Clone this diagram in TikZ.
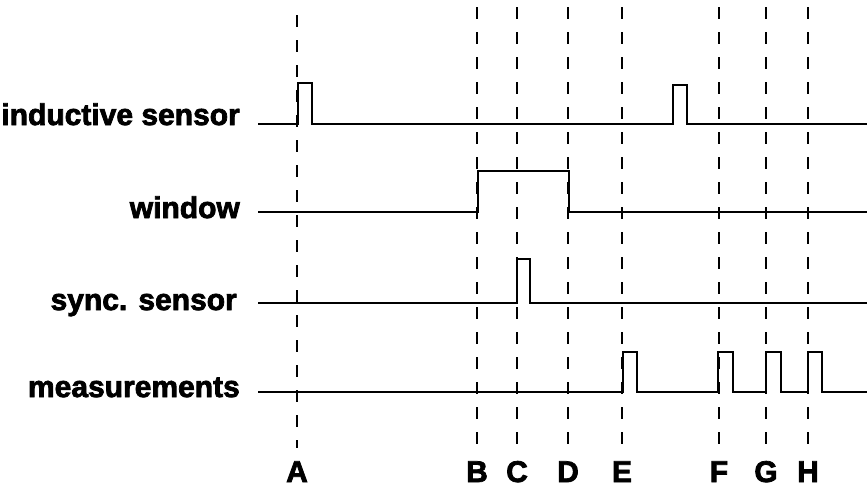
\documentclass[tikz,border=0pt]{standalone}
\usepackage{fontspec}
\setmainfont{Liberation Sans}[BoldFeatures={FakeBold=2.5}]
\tikzset{sig/.style={line width=2.6pt,line join=miter}}
\tikzset{guide/.style={line width=2.2pt,dash pattern=on 12pt off 13pt}}
\begin{document}
\begin{tikzpicture}[x=1pt,y=-1pt,
    lbl/.style={anchor=base east,inner sep=0pt,font=\fontsize{30}{36}\selectfont\bfseries},
    tag/.style={anchor=base,inner sep=0pt,font=\fontsize{30}{36}\selectfont\bfseries}]
                \useasboundingbox (0,0) rectangle (867,488);

                % Labels
                \node[lbl] (ind) at (240,125) {inductive sensor};
                \node[lbl] (win) at (240,218) {window};
                \node[lbl] (syn) at (237,310) {sync. sensor};
                \node[lbl] (mea) at (240,397) {measurements};

                % Guides
                \foreach \x/\n/\t in {297/A/15,477/B/7,517/C/7,568/D/7,622/E/7,719/F/7,766/G/7,808/H/7}{
                    \draw[guide] (\x,\t) -- (\x,448);
                    \node[tag] (\n) at (\x,482) {\n};
                }

                % Inductive sensor
                \draw[sig] (258,124) -- (298,124) -- (298,83) -- (312,83) -- (312,124)
                    -- (673,124) -- (673,85) -- (687,85) -- (687,124) -- (867,124);

                % Window
                \draw[sig] (258,212) -- (478,212) -- (478,171) -- (569,171) -- (569,212) -- (867,212);

                % Sync. sensor
                \draw[sig] (258,303) -- (517,303) -- (517,259) -- (530,259) -- (530,303) -- (867,303);

                % Measurements
                \draw[sig] (258,392) -- (623,392) -- (623,352) -- (637,352) -- (637,392)
                    -- (718,392) -- (718,352) -- (733,352) -- (733,392)
                    -- (766,392) -- (766,352) -- (781,352) -- (781,392)
                    -- (808,392) -- (808,352) -- (822,352) -- (822,392) -- (867,392);
\end{tikzpicture}
\end{document}
